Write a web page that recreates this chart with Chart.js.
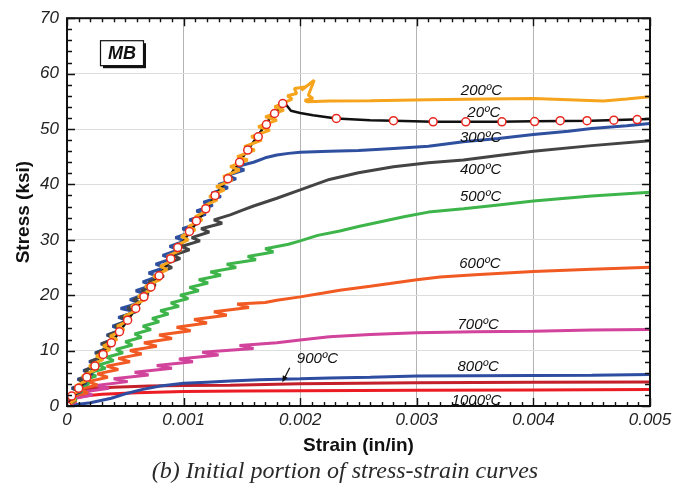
<!DOCTYPE html>
<html>
<head>
<meta charset="utf-8">
<script src="https://cdn.jsdelivr.net/npm/chart.js@4.4.1/dist/chart.umd.min.js"></script>
<style>
  html, body { margin: 0; padding: 0; background: #fff; }
  #wrap { width: 690px; height: 488px; }
</style>
</head>
<body>
<div id="wrap"><canvas id="stressChart" width="690" height="488"></canvas></div>
<script>
// axis ticks
const xTicks = [0, 0.001, 0.002, 0.003, 0.004, 0.005];
const xTickLabels = ['0', '0.001', '0.002', '0.003', '0.004', '0.005'];
const yTicks = [0, 10, 20, 30, 40, 50, 60, 70];
const yTickLabels = ['0', '10', '20', '30', '40', '50', '60', '70'];

// [strain, stress (ksi)]
const curve20 = [[0,0],[0.0004,11.9],[0.0008,23.8],[0.0012,35.8],[0.0015,44.7],[0.00175,52.2],[0.00187,54.6],[0.00189,54.1],[0.00192,53.3],[0.002,52.9],[0.00211,52.5],[0.00231,51.9],[0.0026,51.6],[0.0028,51.5],[0.00314,51.3],[0.0037,51.3],[0.004,51.4],[0.0045,51.5],[0.005,51.8]];
const marks20 = [[0,0],[0.00004,1.8],[0.0001,3.2],[0.00017,5.2],[0.00024,7.2],[0.00031,9.3],[0.00038,11.4],[0.00045,13.4],[0.00052,15.5],[0.00059,17.6],[0.00066,19.7],[0.00072,21.5],[0.00079,23.5],[0.00089,26.6],[0.00095,28.6],[0.00105,31.5],[0.00111,33.4],[0.00119,35.6],[0.00127,38.0],[0.00138,41.0],[0.00148,44.0],[0.00155,46.2],[0.00164,48.6],[0.00171,50.8],[0.00178,52.8],[0.00185,54.6],[0.00231,51.9],[0.0028,51.5],[0.00314,51.3],[0.00342,51.3],[0.00373,51.3],[0.00401,51.35],[0.00423,51.5],[0.00446,51.5],[0.00469,51.6],[0.00489,51.7]];
const curve200 = [[0,0],[0.00007,1.2],[0.00002,1.8],[0.00013,3.0],[0.00007,3.6],[0.00019,4.8],[0.00013,5.4],[0.00025,6.6],[0.00019,7.2],[0.00031,8.4],[0.00025,9.0],[0.00037,10.2],[0.00031,10.8],[0.00043,12.0],[0.00037,12.6],[0.00049,13.8],[0.00043,14.4],[0.00055,15.6],[0.00049,16.2],[0.00061,17.4],[0.00055,18.0],[0.00067,19.2],[0.00061,19.8],[0.00073,21.0],[0.00067,21.6],[0.0008,22.8],[0.00074,23.4],[0.00086,24.6],[0.0008,25.2],[0.00092,26.4],[0.00086,27.0],[0.00098,28.2],[0.00092,28.8],[0.00104,30.0],[0.00098,30.6],[0.0011,31.8],[0.00104,32.4],[0.00116,33.6],[0.0011,34.2],[0.00122,35.4],[0.00116,36.0],[0.00129,37.2],[0.00122,37.8],[0.00135,39.0],[0.00128,39.6],[0.00142,40.8],[0.00134,41.4],[0.00148,42.6],[0.0014,43.2],[0.00155,44.4],[0.00146,45.0],[0.00161,46.2],[0.00152,46.8],[0.00167,48.0],[0.00158,48.6],[0.00174,49.8],[0.00164,50.4],[0.0018,51.6],[0.0017,52.2],[0.00186,53.4],[0.00178,54.0],[0.00193,55.4],[0.00189,56.0],[0.00197,56.4],[0.00195,57.3],[0.00204,57.6],[0.00201,57.0],[0.00212,58.8],[0.00207,56.1],[0.00211,55.5],[0.00204,55.2],[0.00206,54.9],[0.00225,55.05],[0.0026,55.1],[0.0031,55.3],[0.0036,55.4],[0.004,55.5],[0.0043,55.3],[0.0046,55.05],[0.0048,55.4],[0.005,55.8]];
const curve300 = [[0,0],[0.00006,1.0],[0.00001,1.6],[0.00012,2.6],[0.00004,3.2],[0.00017,4.2],[0.00009,4.8],[0.00022,5.8],[0.00014,6.4],[0.00027,7.4],[0.00019,8.0],[0.00032,9.0],[0.00024,9.6],[0.00037,10.6],[0.00029,11.2],[0.00042,12.2],[0.00034,12.8],[0.00047,13.8],[0.00039,14.4],[0.00052,15.4],[0.00044,16.0],[0.00059,17.0],[0.00046,17.6],[0.00062,18.6],[0.00054,19.2],[0.00067,20.2],[0.00059,20.8],[0.00073,21.8],[0.00065,22.4],[0.00078,23.4],[0.0007,24.0],[0.00084,25.0],[0.00076,25.6],[0.0009,26.6],[0.00082,27.2],[0.00096,28.2],[0.00088,28.8],[0.00101,29.8],[0.00093,30.4],[0.00107,31.4],[0.00099,32.0],[0.00113,33.0],[0.00105,33.6],[0.00119,34.6],[0.00111,35.2],[0.00125,36.2],[0.00117,36.8],[0.00132,37.8],[0.00124,38.4],[0.00138,39.4],[0.0013,40.0],[0.00145,41.0],[0.00137,41.6],[0.00152,42.6],[0.00145,43.2],[0.0016,44.0],[0.0017,44.8],[0.0018,45.3],[0.0019,45.6],[0.002,45.8],[0.00225,46.0],[0.0025,46.1],[0.0028,46.5],[0.0031,46.9],[0.0034,47.7],[0.0037,48.3],[0.004,49.0],[0.0043,49.6],[0.0045,50.1],[0.0048,50.6],[0.005,51.0]];
const curve400 = [[0,0],[0.00006,1.0],[0.00001,1.6],[0.00011,2.6],[0.00005,3.2],[0.00016,4.2],[0.0001,4.8],[0.00021,5.8],[0.00015,6.4],[0.00026,7.4],[0.0002,8.0],[0.00031,9.0],[0.00025,9.6],[0.00036,10.6],[0.0003,11.2],[0.00041,12.2],[0.00035,12.8],[0.00047,13.8],[0.00041,14.4],[0.00052,15.4],[0.00046,16.0],[0.00058,17.0],[0.00052,17.6],[0.00063,18.6],[0.00057,19.2],[0.0007,20.2],[0.00064,20.8],[0.00076,21.8],[0.0007,22.4],[0.00083,23.4],[0.00077,24.0],[0.0009,25.0],[0.00084,25.6],[0.00097,26.6],[0.00091,27.2],[0.00105,28.2],[0.00098,28.8],[0.00114,29.8],[0.00107,30.4],[0.00122,31.4],[0.00115,32.0],[0.00133,33.0],[0.00126,33.6],[0.0014,34.5],[0.0015,35.3],[0.0016,36.1],[0.0018,37.5],[0.002,39.0],[0.00225,40.9],[0.0025,42.1],[0.0028,43.2],[0.0031,43.9],[0.0034,44.4],[0.0037,45.2],[0.004,46.0],[0.0045,47.0],[0.005,47.9]];
const curve500 = [[0,0],[0.00008,1.2],[0.00002,1.8],[0.00013,2.6],[0.00008,3.2],[0.00019,4.0],[0.00013,4.6],[0.00025,5.4],[0.00019,6.0],[0.00033,6.8],[0.00027,7.4],[0.0004,8.2],[0.00034,8.8],[0.00048,9.6],[0.00042,10.2],[0.00056,11.0],[0.0005,11.6],[0.00064,12.4],[0.00058,13.0],[0.00072,13.8],[0.00065,14.4],[0.00079,15.2],[0.00073,15.8],[0.00087,16.6],[0.0008,17.2],[0.00096,18.0],[0.00089,18.6],[0.00104,19.4],[0.00097,20.0],[0.00113,20.8],[0.00105,21.4],[0.00121,22.2],[0.00113,22.8],[0.00132,23.6],[0.00123,24.2],[0.00145,25.0],[0.00137,25.6],[0.00162,26.4],[0.00155,27.0],[0.00177,27.8],[0.0017,28.4],[0.0019,29.2],[0.002,29.8],[0.00215,30.8],[0.00234,31.6],[0.0025,32.4],[0.0027,33.3],[0.0029,34.2],[0.0031,35.0],[0.0034,35.6],[0.0037,36.3],[0.004,37.0],[0.0045,37.9],[0.005,38.6]];
const curve600 = [[0,0],[0.00008,1.0],[0.00002,1.6],[0.00018,2.4],[0.0001,3.0],[0.00026,3.8],[0.00018,4.4],[0.00035,5.2],[0.00026,5.8],[0.00044,6.6],[0.00034,7.2],[0.00054,8.0],[0.00044,8.6],[0.00064,9.4],[0.00054,10.0],[0.00077,10.8],[0.00066,11.4],[0.0009,12.2],[0.00079,12.8],[0.00106,13.6],[0.00094,14.2],[0.0012,15.0],[0.00109,15.6],[0.00137,16.4],[0.00126,17.0],[0.00156,17.8],[0.00146,18.4],[0.0017,18.7],[0.0018,19.1],[0.002,19.7],[0.0022,20.4],[0.00234,20.9],[0.0026,21.6],[0.00277,22.1],[0.003,22.8],[0.0032,23.3],[0.0035,23.7],[0.004,24.3],[0.0045,24.7],[0.005,25.05]];
const curve700 = [[0,0],[0.00008,0.8],[0.00002,1.2],[0.00022,2.0],[0.00012,2.5],[0.00036,3.2],[0.00025,3.7],[0.00052,4.4],[0.0004,4.9],[0.0007,5.6],[0.00058,6.1],[0.0009,6.8],[0.00077,7.3],[0.00108,8.0],[0.00096,8.5],[0.0013,9.2],[0.00116,9.7],[0.0016,10.4],[0.00148,10.9],[0.0018,11.4],[0.002,11.9],[0.00225,12.5],[0.0026,12.9],[0.003,13.2],[0.0035,13.4],[0.004,13.5],[0.0045,13.7],[0.005,13.8]];
const curve800 = [[0,0],[0.0001,0.3],[0.0002,0.6],[0.00038,1.4],[0.0005,2.2],[0.00065,3.0],[0.0008,3.6],[0.001,4.1],[0.0012,4.3],[0.0014,4.5],[0.00165,4.75],[0.002,4.9],[0.00225,5.05],[0.0026,5.2],[0.003,5.4],[0.0035,5.45],[0.004,5.5],[0.0045,5.55],[0.005,5.7]];
const curve900 = [[0,0],[0.00003,1.2],[0.00006,2.0],[0.0001,2.6],[0.0002,3.1],[0.0004,3.4],[0.0007,3.6],[0.001,3.7],[0.0014,3.75],[0.002,4.0],[0.0025,4.1],[0.003,4.2],[0.004,4.3],[0.005,4.35]];
const curve1000 = [[0,0],[0.00003,0.8],[0.00007,1.4],[0.00015,1.8],[0.0003,2.1],[0.0006,2.4],[0.001,2.6],[0.0015,2.7],[0.002,2.75],[0.003,2.85],[0.004,2.9],[0.005,2.96]];

// curve labels and where they sit (data coords)
const tempLabels = ['200ºC', '20ºC', '300ºC', '400ºC', '500ºC', '600ºC', '700ºC', '800ºC', '1000ºC', '900ºC'];
const labelAt = [[0.003555,56.85],[0.003575,52.84],[0.003547,48.49],[0.003547,42.7],[0.003547,37.73],[0.003541,25.67],[0.003526,14.61],[0.003526,7.13],[0.003512,0.99],[0.002148,8.46]];
const arrow900 = [[0.00191,6.9],[0.001847,4.27]];

const xMinorStep = 0.0001;
const yMinorStep = 2;

function pts(arr) {
    return arr.map(p => ({ x: p[0], y: p[1] }));
}

function line(data, color, width) {
    return {
        data: pts(data),
        borderColor: color,
        borderWidth: width,
        pointRadius: 0,
        showLine: true,
        fill: false,
        tension: 0,
        borderJoinStyle: 'bevel'
    };
}

const framePlugin = {
    id: 'frame',
    afterDatasetsDraw(chart) {
        const { ctx, chartArea: a, scales: { x, y } } = chart;
        ctx.save();
        ctx.strokeStyle = '#111';
        ctx.lineWidth = 1.4;
        ctx.beginPath();
        for (let k = 0; k <= 50; k++) {
            const px = Math.round(x.getPixelForValue(k * xMinorStep)) + 0.5;
            const len = k % 10 === 0 ? 8 : 4;
            ctx.moveTo(px, a.bottom); ctx.lineTo(px, a.bottom - len);
            ctx.moveTo(px, a.top); ctx.lineTo(px, a.top + len);
        }
        for (let k = 0; k <= 35; k++) {
            const py = Math.round(y.getPixelForValue(k * yMinorStep)) + 0.5;
            const len = k % 5 === 0 ? 8 : 5;
            ctx.moveTo(a.left, py); ctx.lineTo(a.left + len, py);
            ctx.moveTo(a.right, py); ctx.lineTo(a.right - len, py);
        }
        ctx.stroke();
        ctx.lineWidth = 2;
        ctx.strokeRect(a.left, a.top, a.width, a.height);
        ctx.restore();
    }
};

const textPlugin = {
    id: 'texts',
    afterDraw(chart) {
        const { ctx, chartArea: a, scales: { x, y } } = chart;
        ctx.save();
        ctx.fillStyle = '#111';
        ctx.textAlign = 'center';
        ctx.textBaseline = 'middle';

        // curve labels
        ctx.font = 'italic 15px "Liberation Sans", Arial, sans-serif';
        tempLabels.forEach((t, i) => {
            ctx.fillText(t, x.getPixelForValue(labelAt[i][0]), y.getPixelForValue(labelAt[i][1]));
        });

        // 900ºC arrow
        const ax0 = x.getPixelForValue(arrow900[0][0]), ay0 = y.getPixelForValue(arrow900[0][1]);
        const ax1 = x.getPixelForValue(arrow900[1][0]), ay1 = y.getPixelForValue(arrow900[1][1]);
        const ang = Math.atan2(ay1 - ay0, ax1 - ax0);
        ctx.strokeStyle = '#111';
        ctx.lineWidth = 1.3;
        ctx.beginPath();
        ctx.moveTo(ax0, ay0);
        ctx.lineTo(ax1 - 4 * Math.cos(ang), ay1 - 4 * Math.sin(ang));
        ctx.stroke();
        ctx.beginPath();
        ctx.moveTo(ax1, ay1);
        ctx.lineTo(ax1 - 7 * Math.cos(ang - 0.4), ay1 - 7 * Math.sin(ang - 0.4));
        ctx.lineTo(ax1 - 7 * Math.cos(ang + 0.4), ay1 - 7 * Math.sin(ang + 0.4));
        ctx.closePath();
        ctx.fill();

        // MB box
        const bx = a.left + 33, by = a.top + 22;
        ctx.fillRect(bx + 3, by + 3, 43, 25);
        ctx.fillStyle = '#fff';
        ctx.fillRect(bx, by, 43, 25);
        ctx.strokeStyle = '#111';
        ctx.lineWidth = 1.2;
        ctx.strokeRect(bx + 0.5, by + 0.5, 43, 25);
        ctx.fillStyle = '#111';
        ctx.font = 'italic bold 18px "Liberation Sans", Arial, sans-serif';
        ctx.fillText('MB', bx + 22, by + 13.5);

        // axis titles
        ctx.font = 'bold 19px "Liberation Sans", Arial, sans-serif';
        ctx.fillText('Strain (in/in)', (a.left + a.right) / 2, 446);
        ctx.save();
        ctx.translate(24, (a.top + a.bottom) / 2);
        ctx.rotate(-Math.PI / 2);
        ctx.fillText('Stress (ksi)', 0, 0);
        ctx.restore();

        // caption
        ctx.fillStyle = '#2a2a2a';
        ctx.font = 'italic 24px "Liberation Serif", "Times New Roman", serif';
        ctx.fillText('(b) Initial portion of stress-strain curves', 345, 472);
        ctx.restore();
    }
};

new Chart(document.getElementById('stressChart'), {
    type: 'scatter',
    data: {
        datasets: [
            {
                data: pts(marks20),
                showLine: false,
                pointRadius: 4,
                pointBorderWidth: 1.5,
                pointBorderColor: '#e8281f',
                pointBackgroundColor: '#ffffff'
            },
            line(curve200, '#f6a41d', 3),
            line(curve20, '#111111', 2.5),
            line(curve400, '#444444', 3),
            line(curve300, '#2f4f9f', 3),
            line(curve500, '#3db54a', 3),
            line(curve600, '#f15a22', 3),
            line(curve700, '#d2439b', 3),
            line(curve800, '#2e4da0', 3),
            line(curve900, '#c4202b', 3),
            line(curve1000, '#ec1c24', 3)
        ]
    },
    options: {
        responsive: false,
        animation: false,
        layout: { padding: { left: 0, right: 40, top: 16, bottom: 0 } },
        plugins: {
            legend: { display: false },
            tooltip: { enabled: false }
        },
        scales: {
            x: {
                type: 'linear',
                min: 0,
                max: 0.005,
                afterBuildTicks: axis => { axis.ticks = xTicks.map(v => ({ value: v })); },
                afterFit: axis => { axis.height = 82; },
                ticks: {
                    callback: (v, i) => xTickLabels[i],
                    font: { family: '"Liberation Sans", Arial, sans-serif', size: 17, style: 'italic' },
                    color: '#222',
                    padding: 4,
                    maxRotation: 0
                },
                grid: { color: '#b4b4b4', lineWidth: 1, drawTicks: false },
                border: { display: false }
            },
            y: {
                type: 'linear',
                min: 0,
                max: 70,
                afterBuildTicks: axis => { axis.ticks = yTicks.map(v => ({ value: v })); },
                afterFit: axis => { axis.width = 67; },
                ticks: {
                    callback: (v, i) => yTickLabels[i],
                    font: { family: '"Liberation Sans", Arial, sans-serif', size: 17, style: 'italic' },
                    color: '#222',
                    padding: 8
                },
                grid: { color: '#dddddd', lineWidth: 1, drawTicks: false },
                border: { display: false }
            }
        }
    },
    plugins: [framePlugin, textPlugin]
});
</script>
</body>
</html>
